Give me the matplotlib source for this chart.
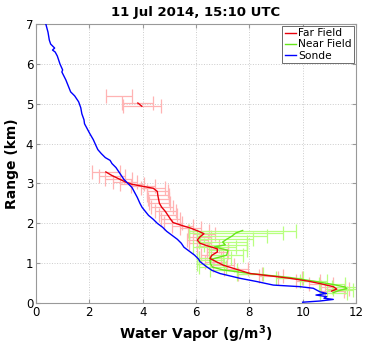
import numpy as np
import matplotlib
matplotlib.use("Agg")
import matplotlib.pyplot as plt

# far field retrieval (nan = break in the line)
ff_range = [5.19, np.nan, 5.02, 4.94, np.nan,
            3.29, 3.20, 3.12, 3.04, 2.98, 2.93, 2.88, 2.80, 2.70, 2.60, 2.50,
            2.40, 2.30, 2.20, 2.10, 2.02, 1.94, 1.88, 1.80, 1.74, 1.66, 1.58,
            1.50, 1.43, 1.36, 1.28, 1.20, 1.12, 1.04, 0.95, 0.85, 0.74, 0.68,
            0.62, 0.55, 0.48, 0.41, 0.35, 0.30]
ff_wv = [3.11, np.nan, 3.82, 3.97, np.nan,
         2.62, 2.85, 3.10, 3.35, 3.60, 4.00, 4.40, 4.55, 4.57, 4.60, 4.63,
         4.72, 4.85, 4.95, 5.05, 5.14, 5.50, 5.80, 6.10, 6.30, 6.15, 6.05,
         6.15, 6.45, 6.80, 6.80, 6.60, 6.52, 6.75, 7.02, 7.50, 8.03, 8.80,
         9.52, 10.20, 10.70, 11.15, 11.28, 11.09]
ff_err = [0.49, np.nan, 0.58, 0.70, np.nan,
          0.52, 0.50, 0.50, 0.45, 0.45, 0.45, 0.45, 0.40, 0.40, 0.40, 0.40,
          0.40, 0.40, 0.35, 0.35, 0.35, 0.40, 0.40, 0.40, 0.40, 0.40, 0.40,
          0.40, 0.40, 0.40, 0.40, 0.40, 0.40, 0.40, 0.40, 0.45, 0.45, 0.45,
          0.45, 0.45, 0.45, 0.45, 0.45, 0.45]

# near field retrieval
nf_range = [1.82, 1.76, 1.68, 1.60, 1.53, 1.46, 1.41, 1.32, 1.20, 1.12,
            1.08, 0.98, 0.90, 0.83, 0.74, 0.64, 0.55, 0.47, 0.40, 0.36,
            0.32, 0.26]
nf_wv = [7.75, 7.50, 7.35, 7.15, 7.00, 7.10, 6.70, 7.20, 7.15, 6.70,
         6.52, 6.55, 6.62, 7.02, 8.03, 9.52, 10.40, 11.10, 11.60, 11.65,
         11.40, 11.15]
nf_err = [2.00, 1.75, 1.30, 1.00, 0.90, 0.80, 0.80, 0.70, 0.60, 0.60,
          0.50, 0.50, 0.50, 0.50, 0.50, 0.50, 0.50, 0.50, 0.50, 0.50,
          0.50, 0.50]

# radiosonde profile
sonde_range = [7.0, 6.8, 6.6, 6.5, 6.4, 6.35, 6.3, 6.2, 6.0, 5.85, 5.8, 5.6,
               5.5, 5.3, 5.2, 5.05, 4.9, 4.75, 4.6, 4.5, 4.4, 4.25, 4.1,
               3.95, 3.85, 3.75, 3.65, 3.58, 3.5, 3.4, 3.3, 3.1, 3.0, 2.9,
               2.75, 2.65, 2.5, 2.4, 2.3, 2.2, 2.1, 2.0, 1.9, 1.8, 1.7, 1.6,
               1.5, 1.4, 1.29, 1.2, 1.1, 1.04, 0.91, 0.82, 0.74, 0.62, 0.54,
               0.45, 0.41, 0.37, 0.28, 0.24, 0.20, 0.16, 0.12, 0.09, 0.05,
               0.02]
sonde_wv = [0.37, 0.45, 0.50, 0.55, 0.70, 0.62, 0.72, 0.80, 0.90, 1.00,
            0.97, 1.12, 1.18, 1.30, 1.45, 1.60, 1.68, 1.72, 1.80, 1.82,
            1.90, 2.02, 2.15, 2.25, 2.32, 2.45, 2.60, 2.78, 2.85, 3.00,
            3.10, 3.30, 3.45, 3.60, 3.72, 3.80, 3.90, 3.98, 4.10, 4.22,
            4.40, 4.55, 4.75, 4.90, 5.10, 5.30, 5.45, 5.55, 5.77, 5.95,
            6.10, 6.15, 6.40, 6.60, 6.90, 7.65, 8.27, 8.90, 9.90, 10.40,
            10.65, 10.90, 10.50, 10.90, 10.80, 11.15, 10.65, 10.00]

xticks = [0, 2, 4, 6, 8, 10, 12]
yticks = [0, 1, 2, 3, 4, 5, 6, 7]

fig = plt.figure(figsize=(3.76, 3.49), dpi=100)
ax = fig.add_axes([0.0957, 0.1318, 0.851, 0.799])

ffr = np.array(ff_range); ffx = np.array(ff_wv); ffe = np.array(ff_err)
ok = ~np.isnan(ffr)
nfr = np.array(nf_range); nfx = np.array(nf_wv); nfe = np.array(nf_err)

ax.errorbar(ffx[ok], ffr[ok], xerr=ffe[ok], fmt='none', ecolor=(1, 0.7, 0.7),
            elinewidth=0.9, capsize=4.7, capthick=0.9, zorder=2)
ax.errorbar(nfx, nfr, xerr=nfe, fmt='none', ecolor=(0.72, 1, 0.5),
            elinewidth=0.9, capsize=4.7, capthick=0.9, zorder=2)

ax.plot(ff_wv, ff_range, color='#e8000b', lw=1.0, label='Far Field', zorder=4)
ax.plot(nf_wv, nf_range, color='#66e61a', lw=1.0, label='Near Field', zorder=3)
ax.plot(sonde_wv, sonde_range, color='#0000ff', lw=1.0, label='Sonde', zorder=5)

ax.set_xlim(0, 12)
ax.set_ylim(0, 7)
ax.set_xticks(xticks)
ax.set_yticks(yticks)
ax.tick_params(direction='in', top=True, right=True, labelsize=8.5, length=3,
               color='#999999', pad=2)
ax.grid(True, linestyle=':', color='#cccccc', linewidth=0.7)
for s in ax.spines.values():
    s.set_color('#999999')
    s.set_linewidth(0.8)

ax.set_title('11 Jul 2014, 15:10 UTC', fontsize=9.5, fontweight='bold', pad=6)
ax.set_xlabel('Water Vapor (g/m$^\\mathbf{3}$)', fontsize=10, fontweight='bold', labelpad=3)
ax.set_ylabel('Range (km)', fontsize=10, fontweight='bold', labelpad=5)

leg = ax.legend(loc='upper right', fontsize=7.7, handlelength=1.1, handletextpad=0.15,
                borderpad=0.25, labelspacing=0.1, fancybox=False,
                borderaxespad=0.15, framealpha=1)
leg.get_frame().set_edgecolor('#555555')
leg.get_frame().set_linewidth(0.6)

fig.savefig('out.png', dpi=100)
